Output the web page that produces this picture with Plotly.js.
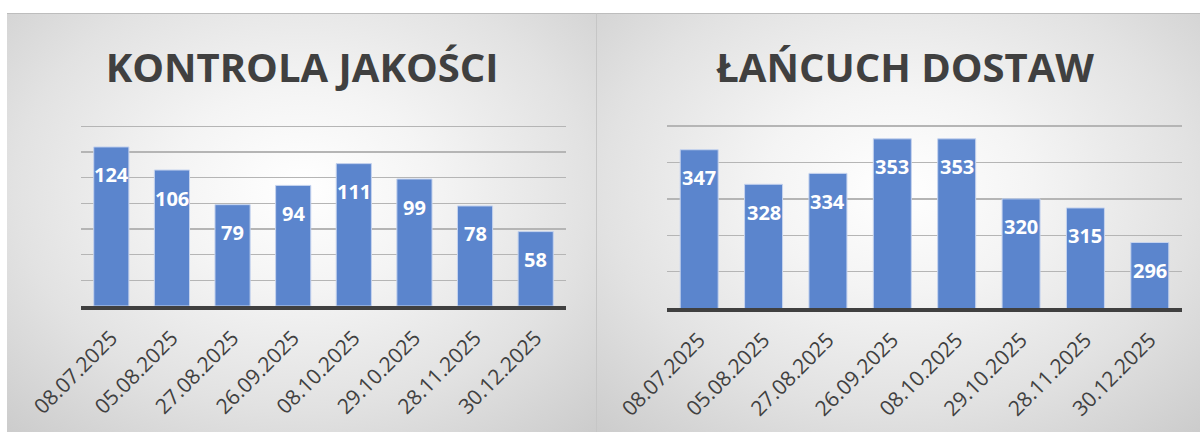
<!DOCTYPE html>
<html>
<head>
<meta charset="utf-8">
<script src="https://cdn.plot.ly/plotly-3.0.1.min.js"></script>
<style>
  html, body { margin: 0; padding: 0; background: #ffffff; width: 1200px; height: 432px; overflow: hidden; }
  .panel {
    position: absolute;
    top: 13px;
    height: 419px;
    border-top: 1px solid #bdbdbd;
    box-sizing: border-box;
    background: radial-gradient(ellipse 75% 80% at 50% 42%, #ffffff 0%, #f4f4f4 30%, #e2e2e2 65%, #cbcbcb 100%);
  }
  #left { left: 7px; width: 590px; border-right: 1px solid #c6c6c6; }
  #right { left: 597px; width: 603px; }
</style>
</head>
<body>
<div id="left" class="panel"></div>
<div id="right" class="panel"></div>
<script>
const dates = ["08.07.2025", "05.08.2025", "27.08.2025", "26.09.2025", "08.10.2025", "29.10.2025", "28.11.2025", "30.12.2025"];
const qualityTitle = "KONTROLA JAKOŚCI";
const qualityValues = [124, 106, 79, 94, 111, 99, 78, 58];
const supplyTitle = "ŁAŃCUCH DOSTAW";
const supplyValues = [347, 328, 334, 353, 353, 320, 315, 296];

function makeChart(id, title, values, opts) {
  const trace = {
    type: 'bar',
    x: dates,
    y: values,
    marker: { color: '#5b85cd', line: { color: '#c5d3ee', width: 1 } },
    hoverinfo: 'skip'
  };
  const annotations = values.map((v, i) => ({
    x: dates[i], y: v, xref: 'x', yref: 'y',
    text: String(v), showarrow: false, yshift: -28,
    font: { family: 'Open Sans, sans-serif', size: 20, color: '#ffffff', weight: 'bold' }
  }));
  const layout = {
    width: opts.width,
    height: 418,
    margin: opts.margin,
    paper_bgcolor: 'rgba(0,0,0,0)',
    plot_bgcolor: 'rgba(0,0,0,0)',
    showlegend: false,
    bargap: opts.bargap,
    title: {
      text: '<b>' + title + '</b>',
      x: opts.titleX, xanchor: 'center',
      y: 0.872, yanchor: 'middle',
      font: { family: 'Open Sans, sans-serif', size: 40, color: '#404040' }
    },
    xaxis: {
      type: 'category',
      tickangle: -45,
      tickfont: { family: 'Open Sans, sans-serif', size: 21, color: '#404040' },
      ticklabelstandoff: 8,
      showline: true, linecolor: '#404040', linewidth: 3.5,
      showgrid: false, ticks: '', zeroline: false,
      fixedrange: true
    },
    yaxis: {
      range: opts.range,
      tick0: opts.tick0,
      dtick: opts.dtick,
      showticklabels: false,
      showgrid: true, gridcolor: '#b5b5b5', gridwidth: 1.3,
      zeroline: false, showline: false, ticks: '',
      fixedrange: true
    },
    annotations: annotations
  };
  Plotly.newPlot(id, [trace], layout, { displayModeBar: false, staticPlot: true });
}

makeChart('left', qualityTitle, qualityValues, {
  width: 589,
  margin: { l: 74, r: 30, t: 106, b: 126 },
  bargap: 0.42,
  range: [0, 145],
  tick0: 0,
  dtick: 20,
  titleX: 0.501
});
makeChart('right', supplyTitle, supplyValues, {
  width: 603,
  margin: { l: 70, r: 18, t: 103, b: 124 },
  bargap: 0.41,
  range: [260, 365],
  tick0: 260,
  dtick: 20,
  titleX: 0.511
});
</script>
</body>
</html>
